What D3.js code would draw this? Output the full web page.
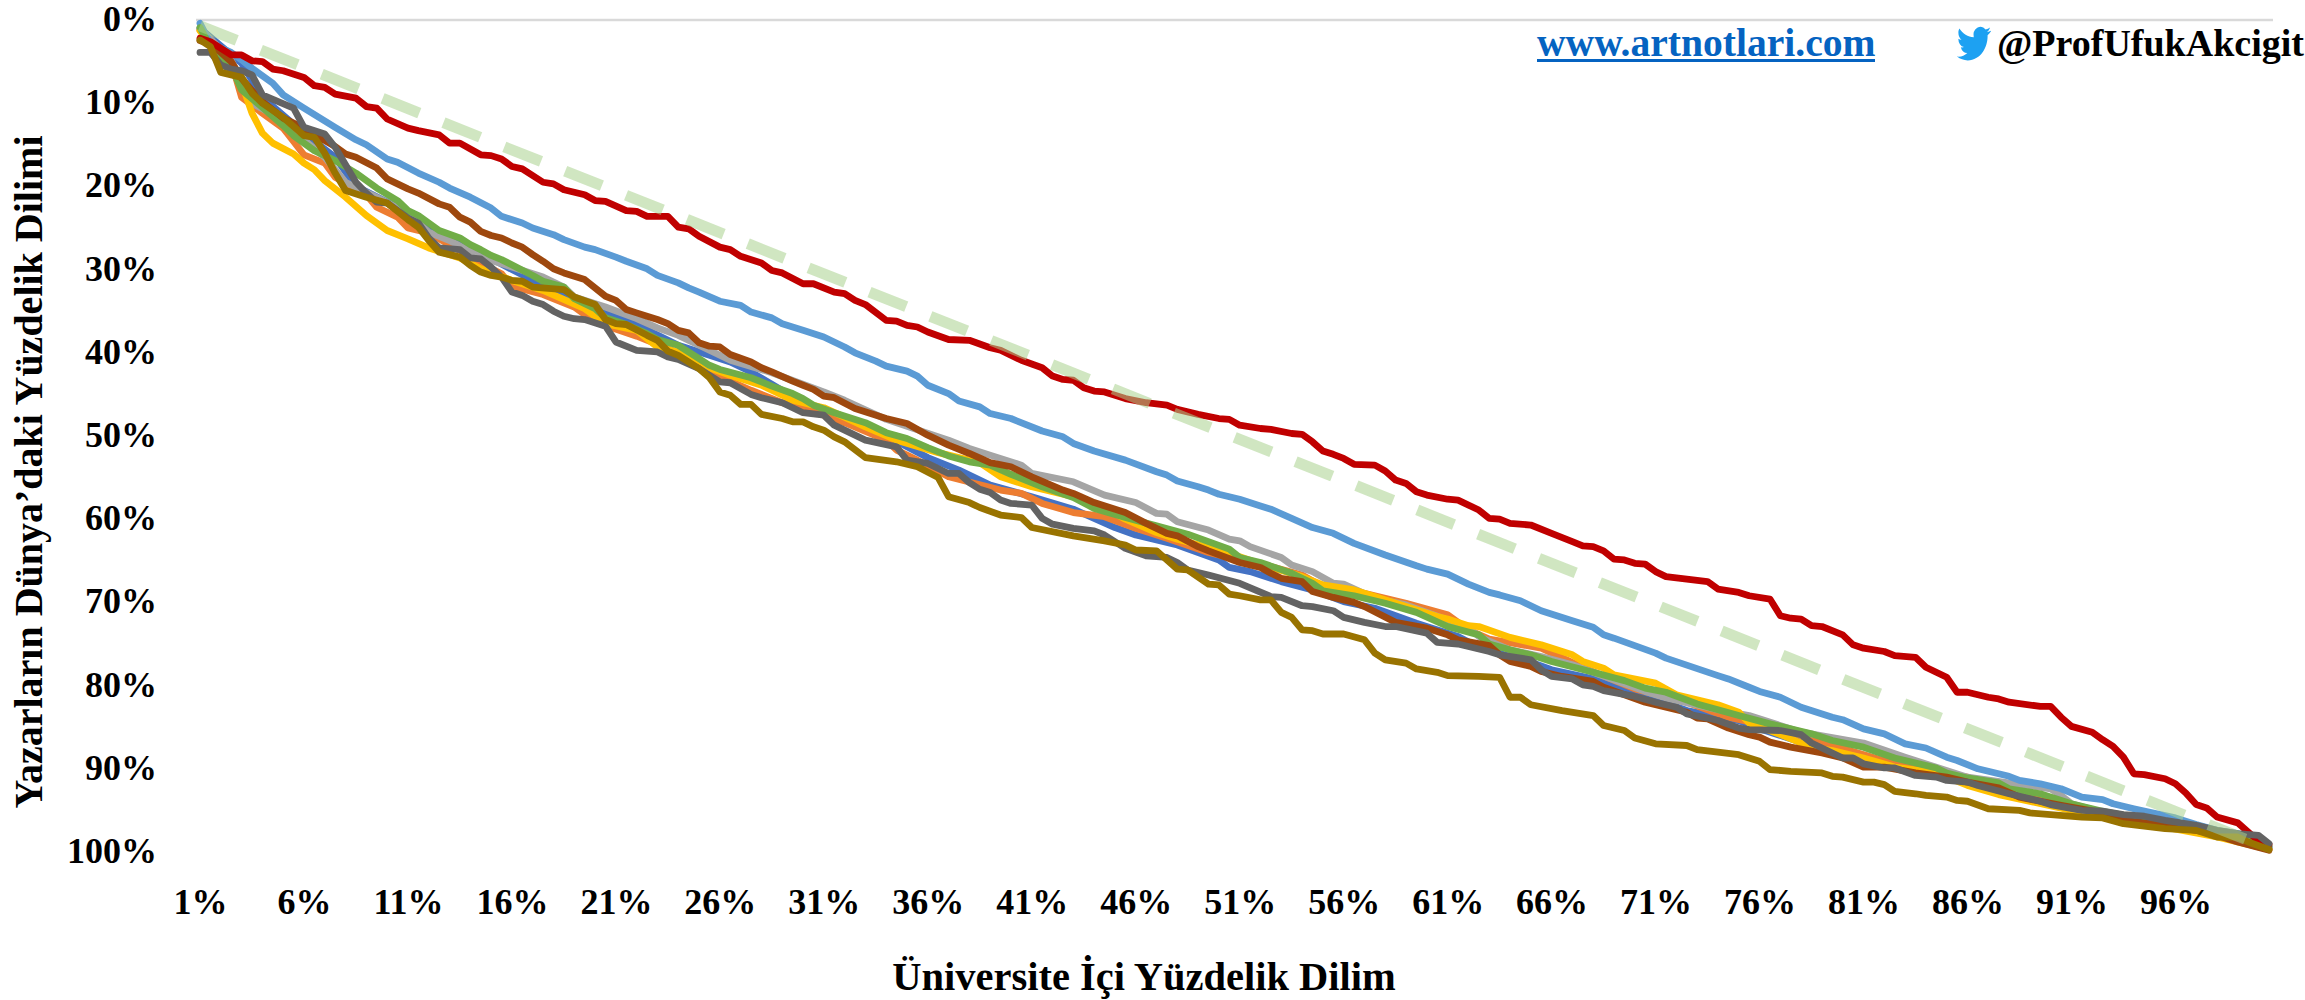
<!DOCTYPE html>
<html>
<head>
<meta charset="utf-8">
<script src="https://cdn.jsdelivr.net/npm/d3@7"></script>
<style>
  html, body { margin: 0; padding: 0; background: #fff; overflow: hidden; }
  text { font-family: "Liberation Serif", serif; font-weight: bold; fill: #000; }
</style>
</head>
<body>
<svg id="chart" width="2305" height="1000" viewBox="0 0 2305 1000"></svg>
<script>
// each series: [university percentile, world percentile]
const blueLine = [[1,1],[3,5.2],[4,9.3],[6,13.6],[7.5,16.5],[8.5,20],[10.5,22.5],[11.5,24.4],[13,26.1],[14.5,28],[16,30],[17.5,31.9],[19.5,34],[21.5,36],[24,39.1],[25.5,40.3],[26.5,41.1],[27.5,42.3],[30,46],[32,48.1],[34,49.9],[35,51.3],[36,52.6],[37.5,54.1],[39,55.9],[41,57.3],[43,58.8],[45,61],[46,61.9],[48,63.1],[50,64.9],[50.5,65.8],[51.5,66.3],[53,67.5],[54.5,68.5],[56,69.9],[57.5,70.7],[59.5,72.5],[61.5,74.1],[62.5,75.4],[65,77.2],[66,78.1],[68,79.2],[69.5,80.3],[72.5,83],[75,84.2],[76,85.2],[78,86.8],[80,88.4],[82.5,89.6],[86,91.5],[88,92.8],[90.5,94.3],[93,95.7],[96,97],[98,98],[100.5,99.5]];
const orangeLine = [[1,1.2],[2.5,5],[3,9.3],[4,11.2],[5,13],[5.5,14.6],[6,16.2],[7,17.2],[7.5,18.9],[9,21],[9.5,22.5],[10.5,23.7],[11,25],[12,25.6],[13.5,27.7],[14,28.6],[15.5,30.5],[16,32],[17.5,33],[19,34.5],[20,36.3],[22,38],[24,40],[25.5,42.3],[27.5,44.5],[29,46],[30,46.6],[32,48.4],[34,50.5],[34.5,51.7],[35.5,52.9],[37,54.9],[39.5,56.5],[40.5,56.9],[41.5,58.1],[43,59.2],[44.5,59.7],[46,61.1],[47.5,62.3],[49.5,64],[51,64.9],[52.5,65.7],[54,66.7],[55,68.1],[57,68.9],[59,70.1],[61,71.5],[62,73.3],[63,74.4],[65.5,75.5],[67.5,77.8],[70,80.4],[72.5,82],[74.5,83.8],[77,85.2],[79.5,87.2],[82.5,89.4],[84.5,90.4],[86,91],[88,92.6],[90.5,94.1],[93,95.8],[95.5,96.9],[98,98],[100.5,99.6]];
const grayLine = [[1,1],[2.5,4.8],[3.5,10],[5,12],[6,14.4],[7,16.5],[7.5,18],[8,19.5],[9.5,21.3],[11,23.2],[12,25.5],[13,26.5],[14.5,28.5],[16,29.7],[17.5,30.9],[18.5,32.1],[19,33.3],[20.5,34.5],[22,35.9],[23,37],[24,37.9],[25.5,39.7],[26.5,40.9],[28.5,42.4],[31,44.7],[32,45.7],[34,48],[37,50.5],[38,51.5],[39,52.3],[40.5,53.5],[41,54.5],[43,55.5],[44.5,57.1],[46,58],[47,59.3],[47.5,59.4],[48,60.3],[49.5,61.3],[50.5,62.4],[51,62.6],[51.5,63.3],[53,64.6],[53.5,65.5],[54.5,66.3],[55.5,67.7],[56,67.8],[57.5,69.5],[59,70.3],[62,73],[62.5,74.1],[64,75.7],[65.5,76.5],[67,77.5],[70.5,80.7],[71.5,81.5],[74,82.9],[75.5,83.6],[78,85.6],[81,86.9],[83,88.6],[84.5,89.8],[86,91],[90,92.4],[90.5,93.2],[91,94.2],[93,95.6],[96,96.7],[98,97.8],[100.5,99.3]];
const yellowLine = [[1,1.3],[1.5,3],[2.5,5.7],[3,7.6],[3.5,11.2],[4,13.6],[4.5,14.8],[5.5,16.1],[6,17.2],[6.5,18],[7,19.3],[8,21.3],[9,23.5],[10,25.3],[11,26.3],[12,27.4],[13.5,28.6],[14.5,29.9],[16,31.3],[17.5,32.5],[19.5,34.7],[20.5,36.5],[22,37.3],[23,39.3],[24,39.9],[25.5,41.8],[26.5,42.7],[28,43.9],[29.5,45.7],[31,46.6],[33,48.9],[34.5,50.5],[36.5,52],[38.5,53.2],[39.5,54.9],[41,56.1],[43,57.3],[44.5,58.6],[45.5,60],[47,61.6],[48,62.4],[49.5,63.4],[51,64.5],[52.5,65.8],[54,66.9],[55,67.9],[56.5,68.5],[59,70.5],[60.5,71.7],[61,72],[62,72.8],[62.5,72.9],[64,74.2],[65.5,75.1],[67,76.3],[67.5,77.1],[68.5,77.9],[69,78.7],[71,79.7],[72,81.1],[74,82.3],[75,83.2],[75.5,84.5],[77,85.9],[78.5,87.4],[79.5,87.8],[81,88.7],[82.5,89.8],[84.5,90.5],[86,92],[87.5,93.1],[91,95],[93,96],[95.5,97],[98,98.2],[100.5,99.7]];
const lightBlueLine = [[1,0.4],[1.5,2.8],[2.5,3.9],[3,4.8],[3.5,5.8],[4.5,7.6],[5,9],[6,10.6],[7.5,12.9],[8.5,14.4],[9,15],[10,16.7],[10.5,17.1],[11.5,18.4],[12.5,19.5],[13,20.2],[14,21.3],[15,22.6],[15.5,23.6],[16.5,24.4],[17,25],[18,25.8],[18.5,26.4],[19.5,27.3],[20,27.6],[21,28.5],[21.5,29],[22.5,29.9],[23,30.7],[24,31.6],[24.5,32.2],[25,32.7],[26,33.8],[27,34.3],[27.5,35.1],[28.5,35.8],[29,36.5],[30,37.3],[31,38.1],[32,39.3],[32.5,40],[33.5,41],[34,41.6],[35,42.2],[35.5,42.8],[36,43.9],[37,44.9],[37.5,45.8],[38.5,46.5],[39,47.3],[40,47.9],[41.5,49.4],[42.5,50.1],[43,50.9],[44,51.8],[45.5,52.9],[47,54.3],[47.5,54.7],[48,55.4],[49,56.1],[49.5,56.5],[50,57],[51,57.6],[52,58.4],[52.5,58.8],[53.5,59.9],[54.5,61],[55.5,61.7],[56.5,62.9],[58,64.3],[59.5,65.6],[60,66],[61,66.6],[62,67.8],[63,68.8],[63.5,69.1],[64.5,69.8],[65.5,71],[67,72.2],[68,73],[68.5,73.9],[69,74.3],[71,76.1],[71.5,76.7],[74,78.8],[74.5,79.2],[75.5,80.2],[76,80.7],[77,81.4],[78,82.6],[79.5,83.8],[80,84.1],[81,85.2],[82,85.8],[83,87],[84,87.5],[85,88.6],[85.5,89],[86.5,90],[88,90.9],[88.5,91.4],[89.5,91.8],[90.5,92.4],[91.5,93.4],[92.5,93.7],[93,94.2],[94,94.8],[96,95.9],[97,96.7],[98,97.4],[99,97.8],[100.5,99.4]];
const greenLine = [[1,0.9],[1.5,3.2],[2.5,5.6],[3,8.4],[4,10.5],[5,12.7],[5.5,13.9],[6.5,15.7],[7.5,16.9],[8.5,18.4],[9.5,20.2],[10.5,21.7],[11,22.9],[11.5,23.5],[12.5,25.3],[13.5,26.2],[14,27],[14.5,27.6],[15,28.3],[15.5,28.8],[17,30.7],[17.5,31.4],[18.5,32.1],[19,33.5],[20,34.7],[20.5,35.8],[21.5,36.6],[22.5,37.7],[23,38.4],[24,39.1],[25,40.7],[25.5,41.5],[26,42],[27.5,43],[28.5,44],[29.5,44.9],[30,45.5],[30.5,46.3],[31.5,47.2],[33,48.4],[34,49.6],[35,50.3],[36,51.4],[37,52.4],[38,53.1],[39,53.5],[40,54.6],[41.5,56.1],[43,57.4],[44,58.7],[45.5,59.8],[47,60.8],[48.5,61.8],[50.5,63.6],[51,64.6],[52,65.2],[53.5,66.5],[54.5,67.7],[55,68.6],[56.5,69.2],[58,70.1],[59.5,71.2],[61,72.9],[62.5,73.9],[63,75],[64,75.7],[65,76.3],[66,77.1],[68,78.4],[69.5,79.4],[70.5,80.3],[71.5,80.8],[73,82.2],[75,83.6],[76.5,84.6],[78.5,85.8],[79.5,86.6],[81,87.4],[82.5,88.7],[84.5,89.9],[85,90.5],[86,91.1],[87.5,91.7],[88,92.4],[89.5,93],[91,94.2],[92.5,95.1],[94,95.8],[96,96.7],[98,97.6],[100.5,99.3]];
const brownLine = [[1,2.5],[1.5,2.8],[2.5,5],[3,7],[3.5,8.5],[4,9.8],[4.5,10.8],[5,11.8],[5.5,12.4],[6,13],[6.5,13.8],[7,14.5],[7.5,15.2],[8,16.1],[8.5,16.5],[9.5,17.8],[10,19.1],[11,20.3],[11.5,20.8],[12.5,22.1],[13,22.5],[13.5,23.7],[14,24.3],[14.5,25.4],[15,25.9],[15.5,26.2],[16,26.8],[16.5,27.3],[17,28.2],[17.5,29],[18,29.9],[18.5,30.4],[19.5,31.2],[20.5,33.2],[21,33.7],[21.5,34.8],[22,35.2],[22.5,35.6],[23,36],[23.5,36.5],[24,37.3],[24.5,37.6],[25,38.8],[25.5,39.2],[26,39.3],[26.5,40.2],[27.5,41.1],[28,41.8],[28.5,42.3],[29.5,43.4],[30,43.9],[30.5,44.4],[31,45.2],[31.5,45.4],[32.5,46.7],[34,47.9],[35,48.5],[36,49.9],[37,51.1],[38,52.1],[39,53.2],[40,53.7],[41,54.9],[42.5,56.5],[43,56.9],[44,58],[45.5,59.2],[46.5,60.5],[47.5,61.7],[48,62],[49,63.3],[49.5,63.8],[51,65.2],[52,65.8],[52.5,66.5],[53,67.1],[54,67.5],[54.5,68.7],[55.5,69.4],[56.5,70],[57,70.5],[58.5,72.4],[60,73.1],[61,73.9],[61.5,74.5],[63,75.2],[63.5,76.3],[64,77.1],[65,77.7],[65.5,78.3],[66.5,78.9],[68,79.5],[68.5,80.2],[70.5,82],[72.5,83.2],[73,83.9],[73.5,84],[74.5,85.1],[75.5,85.9],[76,86.2],[76.5,86.8],[77.5,87.4],[79,88.1],[80,88.7],[81,89.8],[82,89.8],[83.5,90.5],[85,91],[86,91.6],[87.5,92.3],[88.5,93.4],[90.5,94.4],[92.5,95.3],[93.5,96.2],[95.5,96.8],[97.5,97.6],[99,98.8],[100.5,99.8]];
const redLine = [[1,2.2],[1.5,2.6],[2.5,4.2],[3,4.2],[3.5,4.9],[4,5],[4.5,5.9],[5,6.1],[6,6.9],[6.5,7.9],[7,8.1],[7.5,8.9],[8.5,9.4],[9,10.4],[9.5,10.6],[10,11.9],[11,13],[11.5,13.3],[12.5,13.8],[13,14.8],[13.5,14.8],[14.5,16.2],[15,16.3],[15.5,16.7],[16,17.6],[16.5,17.9],[17.5,19.5],[18,19.7],[18.5,20.4],[19.5,21],[20,21.7],[20.5,21.8],[21.5,22.9],[22,23],[22.5,23.6],[23.5,23.6],[24,24.9],[24.5,25.1],[25,26],[26,27.3],[26.5,27.6],[27,28.4],[28,29.2],[28.5,30.1],[29,30.4],[30,31.7],[30.5,31.7],[31.5,32.7],[32,32.9],[32.5,33.7],[33,34.2],[34,36.1],[34.5,36.2],[35,36.7],[35.5,36.9],[36,37.5],[37,38.4],[38,38.5],[39,39.4],[39.5,39.7],[40.5,40.9],[41.5,41.8],[42,42.8],[42.5,43.2],[43,43.3],[43.5,44.2],[44,44.6],[44.5,44.7],[45.5,45.5],[46.5,46],[47.5,46.3],[48,46.8],[49,47.4],[50,47.9],[50.5,48],[51,48.7],[52,49.1],[52.5,49.2],[53.5,49.7],[54,49.8],[54.5,50.7],[55,51.8],[55.5,52.2],[56,52.7],[56.5,53.4],[57.5,53.5],[58,54.2],[58.5,55.3],[59,55.7],[59.5,56.7],[60,57.1],[61,57.6],[61.5,57.7],[62.5,58.9],[63,59.9],[63.5,60],[64,60.5],[65,60.7],[66,61.7],[67,62.7],[67.5,63.2],[68,63.3],[68.5,63.8],[69,64.8],[69.5,64.9],[70,65.3],[70.5,65.4],[71,66.3],[71.5,66.9],[72.5,67.2],[73.5,67.5],[74,68.4],[75,68.8],[75.5,69.2],[76.5,69.6],[77,71.6],[77.5,71.9],[78,72],[78.5,72.8],[79,72.9],[80,73.9],[80.5,75.1],[81,75.5],[82,75.9],[82.5,76.4],[83.5,76.6],[84,77.8],[84.5,78.4],[85,79],[85.5,80.8],[86,80.8],[87,81.4],[87.5,81.6],[88,82],[89.5,82.5],[90,82.5],[90.5,83.8],[91,84.9],[92,85.6],[92.5,86.5],[93,87.3],[93.5,88.6],[94,90.6],[94.5,90.7],[95.5,91.2],[96,91.8],[96.5,92.9],[97,94.3],[97.5,94.7],[98,95.8],[99,96.5],[99.5,97.6],[100,98.7],[100.5,99.1]];
const darkGrayLine = [[1,3.9],[1.5,3.9],[2,5.4],[2.5,5.9],[3,6.1],[3.5,6.6],[4,9],[5.5,10.6],[6,12.9],[7,13.7],[7.5,15.3],[8.5,19.5],[9,20.8],[9.5,21.9],[10,22],[11,23.8],[11.5,24.4],[12,26.2],[12.5,27.4],[13.5,27.6],[14,28.6],[14.5,28.7],[15,29.7],[15.5,30.9],[16,32.7],[16.5,33.1],[17,33.8],[17.5,34.2],[18,35],[18.5,35.6],[19,35.9],[19.5,36],[20.5,36.8],[21,38.7],[22,39.7],[23,39.9],[23.5,40.5],[24,40.8],[25,41.9],[25.5,42.7],[26,43.5],[26.5,43.6],[27.5,45],[28,45.4],[29,46],[30,47.2],[31,47.5],[31.5,48.7],[32,49.3],[33,50.5],[34.5,51.3],[35,52.9],[36,53.3],[37,54.5],[37.5,54.5],[38,55.6],[38.5,56.4],[39,56.8],[39.5,57.7],[40,58.1],[41,58.3],[41.5,59.9],[42,60.6],[43,61.1],[44,61.4],[44.5,61.9],[45.5,63.5],[46.5,64.4],[47.5,64.6],[48,65.2],[48.5,66.1],[49.5,66.7],[51,67.7],[52.5,69.3],[53,69.4],[54,70.4],[54.5,70.5],[55.5,71],[56,71.8],[57,72.4],[58,72.9],[58.5,72.9],[60,73.7],[60.5,74.8],[61.5,75],[63,75.9],[63.5,76.3],[65,76.9],[65.5,78.1],[66,78.9],[67,79.2],[67.5,79.9],[68,80.1],[68.5,80.6],[70,81.3],[71,82],[72,82.6],[72.5,83.4],[73.5,83.9],[74,84.2],[75,85.1],[75.5,85.3],[77,85.4],[78,85.9],[78.5,86.9],[79.5,88.1],[80,88.7],[80.5,88.7],[81,89.4],[82,89.9],[82.5,89.9],[83.5,90.8],[84.5,91],[85,91.4],[86,91.6],[86.5,92],[88,93],[89.5,93.9],[90,94.3],[91.5,95],[92.5,95.1],[93.5,95.5],[94.5,95.7],[95.5,96.2],[97,96.8],[98,97.4],[99,97.8],[100,98],[100.5,99]];
const oliveLine = [[1,2.4],[1.5,3.2],[2,6.3],[3,6.9],[3.5,8.8],[4,10],[5,11.7],[6,13.9],[6.5,14.1],[7,16],[7.5,18.4],[8,20.5],[9,21.3],[10,22],[11,24],[11.5,24.9],[12,26.5],[12.5,27.9],[13.5,28.5],[14,29.5],[14.5,30.3],[15,30.7],[15.5,30.9],[16,31.3],[16.5,31.4],[17,32.1],[18.5,32.4],[19,33.3],[20,34.2],[20.5,36],[21,36.5],[21.5,36.6],[22.5,37.9],[23,38.5],[23.5,39.8],[24,40.3],[25,41.9],[25.5,43],[26,44.7],[26.5,45.1],[27,46.2],[27.5,46.2],[28,47.4],[29,47.9],[29.5,48.3],[30,48.3],[30.5,48.9],[31,49.3],[31.5,50.1],[32,50.7],[33,52.6],[34.5,53.1],[35.5,53.7],[36.5,55],[37,57.3],[38,58],[38.5,58.6],[39.5,59.5],[40.5,59.8],[41,61],[43,62],[44.5,62.6],[45.5,63.1],[46,63.7],[47,63.8],[47.5,64.9],[48,66],[48.5,66.1],[49.5,67.8],[50,67.9],[50.5,69],[51,69.2],[52,69.7],[52.5,69.7],[53,71.2],[53.5,71.8],[54,73.3],[54.5,73.4],[55,73.8],[56,73.8],[57,74.5],[57.5,76.1],[58,76.9],[59,77.3],[59.5,78],[60.5,78.4],[61,78.8],[62.5,78.9],[63.5,79],[64,81.4],[64.5,81.4],[65,82.3],[66.5,83],[68,83.6],[68.5,84.8],[69.5,85.4],[70,86.3],[71,87],[72.5,87.2],[73,87.7],[75,88.3],[76,89.1],[76.5,90.1],[77.5,90.3],[79,90.5],[79.5,90.9],[80,91],[81,91.6],[81.5,91.6],[82,91.9],[82.5,92.7],[83.5,93],[84,93.2],[85,93.4],[85.5,93.8],[86,93.9],[87,94.8],[88.5,95],[89,95.3],[91.5,95.8],[92.5,95.9],[93.5,96.6],[94.5,96.9],[95.5,97.2],[97,97.4],[98,98.2],[99,98.2],[99.5,98.8],[100.5,99.7]];
const diagonalLine = [[1,0.7],[100.5,99.6]];

const xTickValues = d3.range(1, 97, 5);
const yTickValues = d3.range(0, 101, 10);

const svg = d3.select("#chart");

const x = d3.scaleLinear().domain([1, 100.5]).range([200, 2269]);
const y = d3.scaleLinear().domain([0, 100]).range([20, 852]);

const line = d3
  .line()
  .x((d) => x(d[0]))
  .y((d) => y(d[1]));

// top line of the plot, the y axis has no other rule
svg
  .append("line")
  .attr("x1", 196)
  .attr("x2", 2273)
  .attr("y1", y(0))
  .attr("y2", y(0))
  .attr("stroke", "#d9d9d9")
  .attr("stroke-width", 2.5);

// axes, only the labels are kept
const yAxis = svg
  .append("g")
  .attr("transform", "translate(157,-1)")
  .call(
    d3
      .axisLeft(y)
      .tickValues(yTickValues)
      .tickSize(0)
      .tickPadding(0)
      .tickFormat((d) => d + "%")
  );
const xAxis = svg
  .append("g")
  .attr("transform", "translate(0,888)")
  .call(
    d3
      .axisBottom(x)
      .tickValues(xTickValues)
      .tickSize(0)
      .tickPadding(0)
      .tickFormat((d) => d + "%")
  );
[yAxis, xAxis].forEach((a) => {
  a.select(".domain").remove();
  a.selectAll("text")
    .attr("font-size", 36)
    .style("font-family", '"Liberation Serif", serif')
    .style("font-weight", "bold");
});

// Excel series order, the later ones sit on top
const series = [
  { values: blueLine, color: "#4472c4" },
  { values: orangeLine, color: "#ed7d31" },
  { values: grayLine, color: "#a5a5a5" },
  { values: yellowLine, color: "#ffc000" },
  { values: lightBlueLine, color: "#5b9bd5" },
  { values: greenLine, color: "#70ad47" },
  { values: brownLine, color: "#9e480e" },
  { values: redLine, color: "#c00000" },
  { values: darkGrayLine, color: "#636363" },
  { values: oliveLine, color: "#997300" },
];

svg
  .append("g")
  .attr("fill", "none")
  .attr("stroke-width", 6.8)
  .attr("stroke-linejoin", "round")
  .attr("stroke-linecap", "round")
  .selectAll("path")
  .data(series)
  .enter()
  .append("path")
  .attr("stroke", (d) => d.color)
  .attr("d", (d) => line(d.values));

// dashed 45 degree reference, transparent in the original
svg
  .append("path")
  .attr("fill", "none")
  .attr("stroke", "#a9d18e")
  .attr("stroke-opacity", 0.55)
  .attr("stroke-width", 11)
  .attr("stroke-dasharray", "39.5 26")
  .attr("d", line(diagonalLine));

// axis titles
svg
  .append("text")
  .attr("x", 1144)
  .attr("y", 990)
  .attr("text-anchor", "middle")
  .attr("font-size", 40.5)
  .text("Üniversite İçi Yüzdelik Dilim");

svg
  .append("text")
  .attr("transform", "translate(42,472) rotate(-90)")
  .attr("text-anchor", "middle")
  .attr("font-size", 40)
  .text("Yazarların Dünya’daki Yüzdelik Dilimi");

// link and twitter handle, top right
svg
  .append("text")
  .attr("x", 1537)
  .attr("y", 56)
  .attr("font-size", 39.6)
  .style("fill", "#0563c1")
  .text("www.artnotlari.com");
svg
  .append("rect")
  .attr("x", 1537)
  .attr("y", 59)
  .attr("width", 338)
  .attr("height", 3)
  .attr("fill", "#0563c1");

svg
  .append("path")
  .attr("transform", "translate(1957,23) scale(1.42,1.72)")
  .attr("fill", "#1da1f2")
  .attr(
    "d",
    "M23.953 4.57a10 10 0 01-2.825.775 4.958 4.958 0 002.163-2.723c-.951.555-2.005.959-3.127 1.184a4.92 4.92 0 00-8.384 4.482C7.69 8.095 4.067 6.13 1.64 3.162a4.822 4.822 0 00-.666 2.475c0 1.71.87 3.213 2.188 4.096a4.904 4.904 0 01-2.228-.616v.06a4.923 4.923 0 003.946 4.827 4.996 4.996 0 01-2.212.085 4.936 4.936 0 004.604 3.417 9.867 9.867 0 01-6.102 2.105c-.39 0-.779-.023-1.17-.067a13.995 13.995 0 007.557 2.209c9.053 0 13.998-7.496 13.998-13.985 0-.21 0-.42-.015-.63A9.935 9.935 0 0024 4.59z"
  );

svg
  .append("text")
  .attr("x", 1997)
  .attr("y", 56)
  .attr("font-size", 38)
  .text("@ProfUfukAkcigit");
</script>
</body>
</html>
